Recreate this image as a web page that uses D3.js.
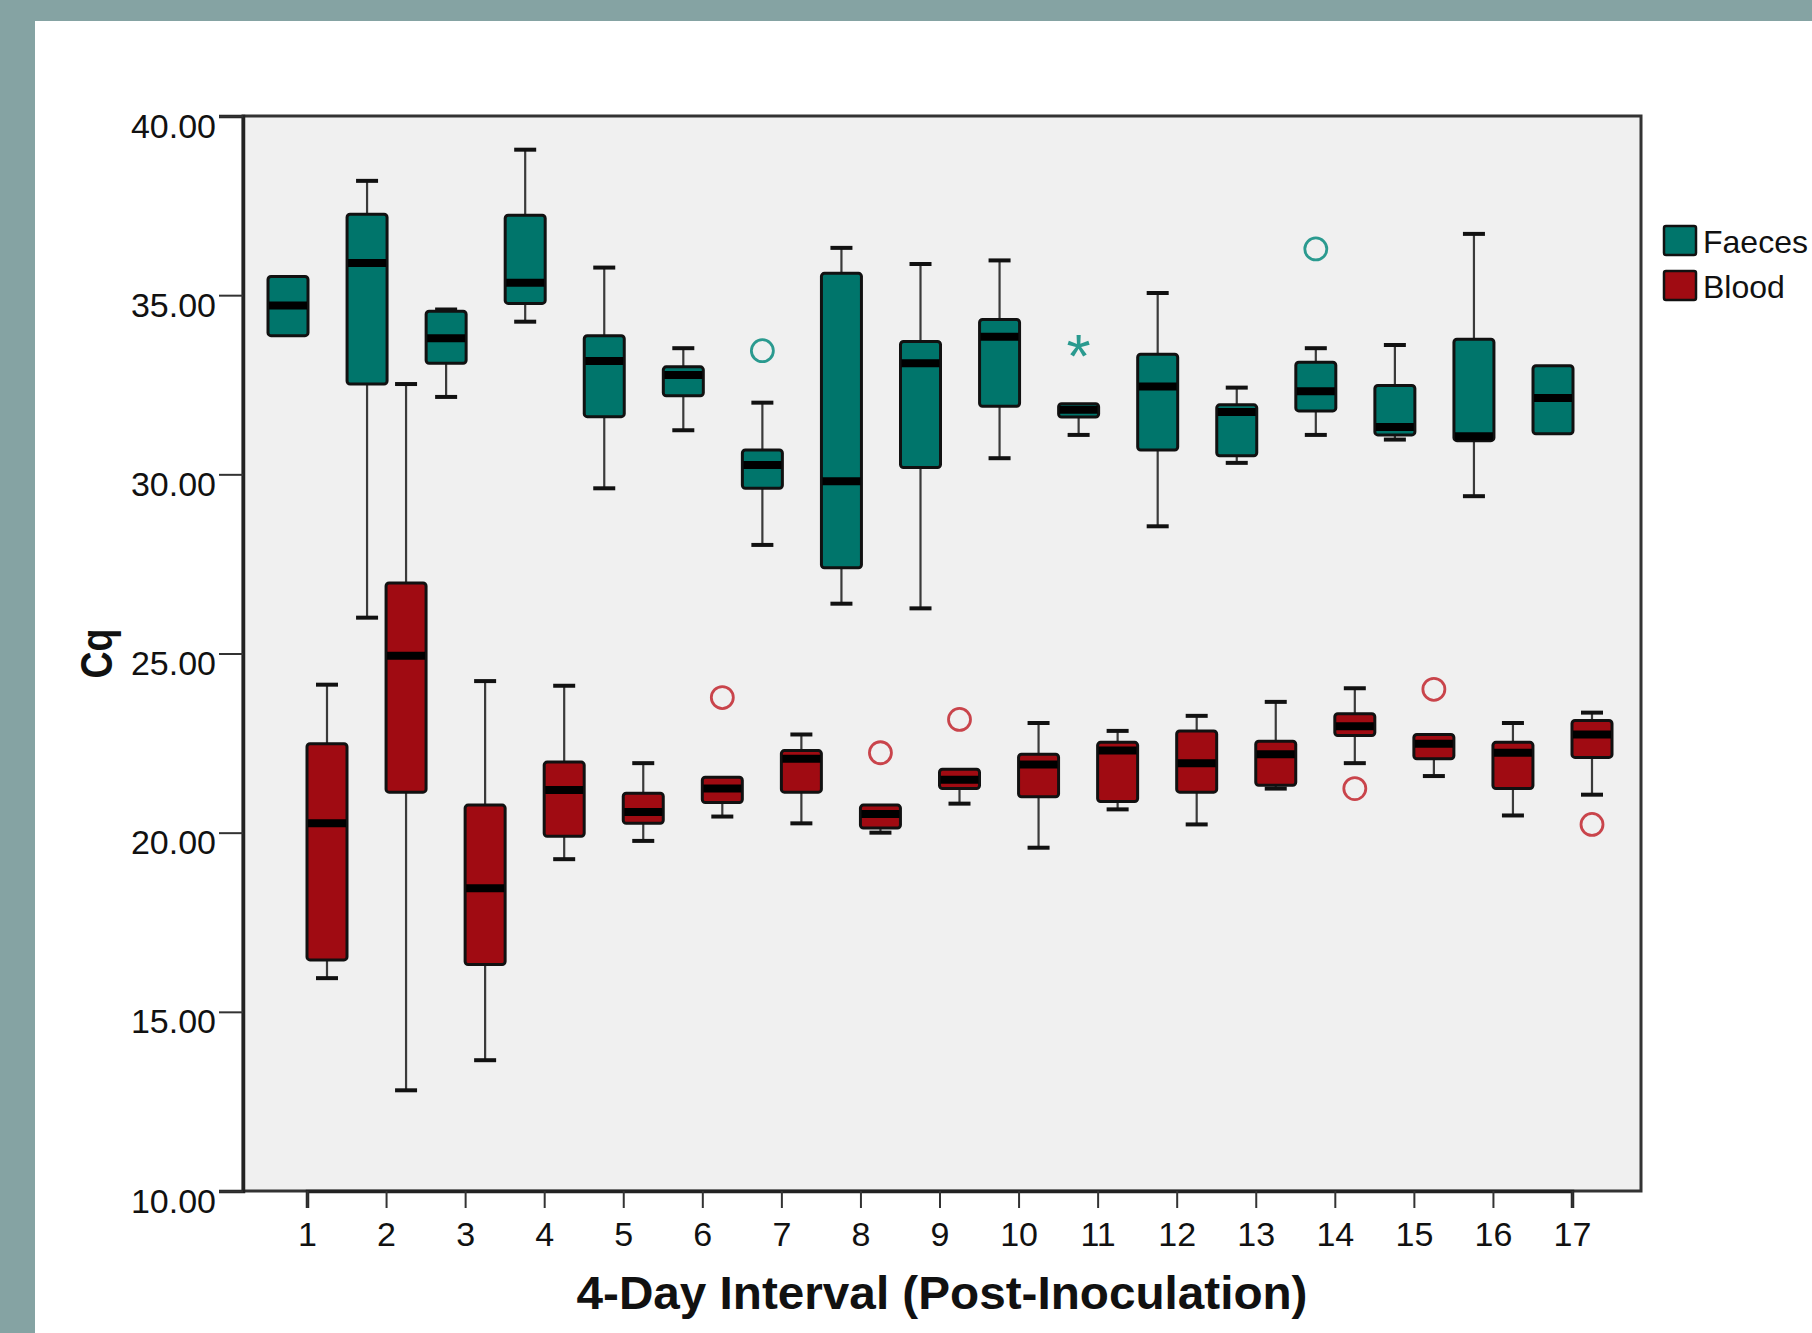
<!DOCTYPE html>
<html>
<head>
<meta charset="utf-8">
<script src="https://cdn.jsdelivr.net/npm/d3@7"></script>
<style>
  html, body { margin: 0; padding: 0; background: #85a3a3; }
  #chart { position: absolute; left: 0; top: 0; }
  text { font-family: Arial, "Liberation Sans", sans-serif; fill: #111; }
</style>
</head>
<body>
<div id="chart"></div>
<script>
// 4-day interval categories
var categories = [1, 2, 3, 4, 5, 6, 7, 8, 9, 10, 11, 12, 13, 14, 15, 16, 17];
var yTicks = [10, 15, 20, 25, 30, 35, 40];

// Faeces box stats
var faecesMin    = [33.87, 26.00, 32.16, 34.26, 29.61, 31.23, 28.03, 26.39, 26.26, 30.45, 31.10, 28.55, 30.32, 31.10, 30.97, 29.39, 31.13];
var faecesQ1     = [33.87, 32.52, 33.10, 34.77, 31.61, 32.19, 29.61, 27.39, 30.19, 31.90, 31.60, 30.68, 30.52, 31.77, 31.10, 30.94, 31.13];
var faecesMedian = [34.71, 35.90, 33.80, 35.35, 33.16, 32.77, 30.26, 29.81, 33.10, 33.84, 31.80, 32.45, 31.74, 32.32, 31.32, 31.06, 32.13];
var faecesQ3     = [35.52, 37.26, 34.55, 37.23, 33.87, 33.00, 30.68, 35.61, 33.71, 34.32, 31.97, 33.35, 31.94, 33.13, 32.48, 33.77, 33.03];
var faecesMax    = [35.52, 38.19, 34.60, 39.06, 35.77, 33.52, 32.00, 36.32, 35.87, 35.97, 31.97, 35.06, 32.42, 33.52, 33.61, 36.71, 33.03];
var faecesOutliers = [[7, 33.45, "o"], [11, 33.75, "*"], [14, 36.29, "o"]];

// Blood box stats
var bloodMin    = [15.94, 12.81, 13.65, 19.26, 19.77, 20.45, 20.26, 20.00, 20.81, 19.58, 20.65, 20.23, 21.23, 21.94, 21.58, 20.48, 21.06];
var bloodQ1     = [16.45, 21.13, 16.32, 19.90, 20.26, 20.84, 21.13, 20.13, 21.23, 21.00, 20.87, 21.13, 21.32, 22.71, 22.06, 21.23, 22.10];
var bloodMedian = [20.26, 24.94, 18.45, 21.19, 20.58, 21.23, 22.06, 20.52, 21.48, 21.90, 22.29, 21.94, 22.19, 22.97, 22.48, 22.23, 22.74];
var bloodQ3     = [22.48, 26.97, 20.77, 21.97, 21.10, 21.55, 22.29, 20.77, 21.77, 22.19, 22.52, 22.84, 22.55, 23.32, 22.74, 22.52, 23.13];
var bloodMax    = [24.13, 32.52, 24.23, 24.10, 21.94, 21.55, 22.74, 20.77, 21.77, 23.06, 22.84, 23.26, 23.65, 24.03, 22.74, 23.06, 23.35];
var bloodOutliers = [[6, 23.77, "o"], [8, 22.23, "o"], [9, 23.16, "o"], [14, 21.23, "o"], [15, 24.00, "o"], [17, 20.23, "o"]];

var seriesNames = ["Faeces", "Blood"];
var seriesFill = ["#00756b", "#a00b12"];
var outlierColor = ["#2a9a8f", "#c9444b"];

document.addEventListener("DOMContentLoaded", function() {
  boxchart();
});

function boxchart() {
  const width = 1812;
  const height = 1333;
  const margin = { top: 116, bottom: 142, left: 243, right: 171 };

  const svg = d3.select('#chart')
    .append('svg')
    .attr('width', width)
    .attr('height', height);

  // white panel on the grey-teal frame
  svg.append('rect')
    .attr('x', 35).attr('y', 21)
    .attr('width', width - 35).attr('height', height - 21)
    .attr('fill', '#ffffff');

  const x = d3.scalePoint()
    .domain(categories)
    .range([307, 1572]);

  const y = d3.scaleLinear()
    .domain([10, 40])
    .range([height - margin.bottom, margin.top]);

  const boxW = 40;
  const offset = [-19, 20];

  // plot background
  svg.append('rect')
    .attr('x', margin.left)
    .attr('y', margin.top)
    .attr('width', width - margin.left - margin.right)
    .attr('height', height - margin.top - margin.bottom)
    .attr('fill', '#f0f0f0')
    .attr('stroke', '#333')
    .attr('stroke-width', 3);

  const series = [
    { min: faecesMin, q1: faecesQ1, med: faecesMedian, q3: faecesQ3, max: faecesMax, out: faecesOutliers },
    { min: bloodMin, q1: bloodQ1, med: bloodMedian, q3: bloodQ3, max: bloodMax, out: bloodOutliers }
  ];

  series.forEach(function(s, si) {
    const rows = categories.map((c, i) => ({
      cat: c, min: s.min[i], q1: s.q1[i], med: s.med[i], q3: s.q3[i], max: s.max[i]
    }));
    const cx = d => x(d.cat) + offset[si];

    const g = svg.append('g');

    // whisker stems
    g.selectAll('line.stem-up')
      .data(rows)
      .join('line')
      .attr('x1', cx).attr('x2', cx)
      .attr('y1', d => y(d.max)).attr('y2', d => y(d.q3))
      .attr('stroke', '#3a3a3a').attr('stroke-width', 2.2);
    g.selectAll('line.stem-down')
      .data(rows)
      .join('line')
      .attr('x1', cx).attr('x2', cx)
      .attr('y1', d => y(d.q1)).attr('y2', d => y(d.min))
      .attr('stroke', '#3a3a3a').attr('stroke-width', 2.2);

    // caps
    ['min', 'max'].forEach(function(k) {
      g.selectAll('line.cap-' + k)
        .data(rows.filter(d => k == 'max' ? d.max > d.q3 + 0.01 : d.min < d.q1 - 0.01))
        .join('line')
        .attr('x1', d => cx(d) - 11).attr('x2', d => cx(d) + 11)
        .attr('y1', d => y(d[k])).attr('y2', d => y(d[k]))
        .attr('stroke', '#111').attr('stroke-width', 4);
    });

    // boxes
    g.selectAll('rect')
      .data(rows)
      .join('rect')
      .attr('x', d => cx(d) - boxW / 2)
      .attr('y', d => y(d.q3))
      .attr('width', boxW)
      .attr('height', d => y(d.q1) - y(d.q3))
      .attr('rx', 3)
      .attr('fill', seriesFill[si])
      .attr('stroke', '#111')
      .attr('stroke-width', 3);

    // medians
    g.selectAll('line.median')
      .data(rows)
      .join('line')
      .attr('x1', d => cx(d) - boxW / 2 + 1).attr('x2', d => cx(d) + boxW / 2 - 1)
      .attr('y1', d => y(d.med)).attr('y2', d => y(d.med))
      .attr('stroke', '#000').attr('stroke-width', 8);

    // outliers
    g.selectAll('circle')
      .data(s.out.filter(d => d[2] == 'o'))
      .join('circle')
      .attr('cx', d => x(d[0]) + offset[si])
      .attr('cy', d => y(d[1]))
      .attr('r', 11)
      .attr('fill', 'none')
      .attr('stroke', outlierColor[si])
      .attr('stroke-width', 2.8);

    g.selectAll('text.star')
      .data(s.out.filter(d => d[2] == '*'))
      .join('text')
      .attr('x', d => x(d[0]) + offset[si])
      .attr('y', d => y(d[1]))
      .attr('dy', '0.6em')
      .attr('text-anchor', 'middle')
      .attr('font-size', 62)
      .style('fill', outlierColor[si])
      .text('*');
  });

  // axes
  function yAxis(g) {
    g.attr("transform", `translate(${margin.left}, 0)`)
      .call(d3.axisLeft(y).tickValues(yTicks).tickFormat(d3.format('.2f')).tickSizeOuter(0).tickSize(24).tickPadding(3))
      .attr("font-size", '34px');
    g.select('.domain').attr('stroke', '#222').attr('stroke-width', 3.5);
    g.selectAll('.tick line').attr('stroke', '#333').attr('stroke-width', 2);
    g.selectAll('.tick text').attr('dy', '0.62em').style('font-family', 'Arial, "Liberation Sans", sans-serif').style('fill', '#111');
  }

  function xAxis(g) {
    g.attr("transform", `translate(0,${height - margin.bottom})`)
      .call(d3.axisBottom(x).tickSizeOuter(0).tickSize(17).tickPadding(14))
      .attr("font-size", '34px');
    g.select('.domain').attr('stroke', '#222').attr('stroke-width', 3.5);
    g.selectAll('.tick line').attr('stroke', '#333').attr('stroke-width', 2);
    g.selectAll('.tick text').style('font-family', 'Arial, "Liberation Sans", sans-serif').style('fill', '#111');
  }

  svg.append("g").call(xAxis);
  svg.append("g").call(yAxis);

  // axis titles
  svg.append('text')
    .attr('x', (margin.left + width - margin.right) / 2)
    .attr('y', 1309)
    .attr('text-anchor', 'middle')
    .attr('font-size', 47)
    .attr('font-weight', 'bold')
    .attr('textLength', 731)
    .attr('lengthAdjust', 'spacingAndGlyphs')
    .text('4-Day Interval (Post-Inoculation)');

  svg.append('text')
    .attr('transform', `translate(112, ${(margin.top + height - margin.bottom) / 2}) rotate(-90)`)
    .attr('text-anchor', 'middle')
    .attr('font-size', 45)
    .attr('font-weight', 'bold')
    .attr('textLength', 50)
    .attr('lengthAdjust', 'spacingAndGlyphs')
    .text('Cq');

  // legend
  const legend = svg.append('g');
  seriesNames.forEach(function(name, i) {
    legend.append('rect')
      .attr('x', 1664).attr('y', 226 + i * 45)
      .attr('width', 32).attr('height', 29)
      .attr('rx', 2)
      .attr('fill', seriesFill[i])
      .attr('stroke', '#111').attr('stroke-width', 2.5);
    legend.append('text')
      .attr('x', 1703).attr('y', 253 + i * 45)
      .attr('font-size', 32)
      .text(name);
  });
}
</script>
</body>
</html>
